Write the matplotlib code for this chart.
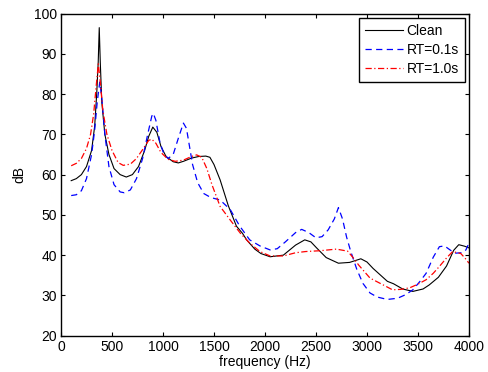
import matplotlib
matplotlib.use("Agg")
import matplotlib.pyplot as plt

plt.rcParams['font.family'] = ['Liberation Sans', 'DejaVu Sans']

clean_f = [100, 150, 200, 250, 300, 330, 350, 365, 375, 385, 400, 430, 470, 520, 580, 640, 700, 760, 820, 860,
           900, 940, 980, 1030, 1100, 1150, 1200, 1280, 1350, 1420, 1460, 1500, 1560, 1640, 1720, 1780, 1820,
           1900, 1960, 2050, 2180, 2300, 2390, 2450, 2510, 2600, 2720, 2830, 2940, 3000, 3060, 3200, 3260, 3350,
           3450, 3550, 3610, 3700, 3780, 3850, 3900, 3960, 4000]
clean_db = [58.5, 59, 60, 62, 66, 72, 80, 88, 96.5, 88, 78, 70, 65, 61.5, 60, 59.4, 60, 62, 66, 69.5,
            71.8, 70.5, 67, 64.5, 63.2, 62.9, 63.3, 64.1, 64.5, 64.6, 64.3, 62.5, 58.7, 52.3, 47.2, 45.4, 43.8,
            41.5, 40.4, 39.6, 40.0, 42.5, 43.8, 43.3, 41.7, 39.4, 38.0, 38.2, 39.1, 38.3, 36.7, 33.5, 32.9, 31.6,
            31.0, 31.6, 32.6, 34.5, 37.3, 41.2, 42.6, 42.2, 41.8]

rt01_f = [100, 150, 200, 250, 300, 330, 355, 380, 400, 430, 470, 520, 580, 620, 680, 740, 800, 850, 890, 905,
          930, 970, 1010, 1050, 1100, 1150, 1200, 1230, 1260, 1290, 1340, 1400, 1470, 1560, 1660, 1750, 1850,
          1950, 2050, 2120, 2200, 2300, 2360, 2430, 2500, 2560, 2620, 2680, 2720, 2760, 2800, 2840, 2900, 2960,
          3030, 3100, 3200, 3300, 3380, 3450, 3520, 3580, 3650, 3710, 3760, 3820, 3870, 3930, 3970, 4000]
rt01_db = [54.8, 55, 56, 59, 65, 71, 78, 83, 79, 70, 62, 57.5, 55.7, 55.5, 56.2, 59, 64, 70, 74.5, 75.2,
           73.5, 68, 65, 64, 65, 69, 72.8, 71.5, 67, 62.5, 58, 55.3, 54.3, 53.7, 51.3, 47.3, 43.8,
           42.3, 41.3, 41.6, 43.3, 45.6, 46.4, 45.6, 44.3, 44.6, 46.3, 49, 51.8, 49, 44.5, 41, 36.5, 33,
           30.6, 29.6, 29, 29.3, 30.2, 31.4, 33.5, 35.5, 39.5, 42.1, 42.3, 41.2, 40.5, 40.6, 41.3, 43]

rt10_f = [100, 150, 200, 250, 290, 320, 345, 366, 385, 410, 450, 500, 560, 610, 680, 740, 800, 860, 890, 930,
          980, 1050, 1120, 1200, 1280, 1330, 1380, 1430, 1480, 1560, 1660, 1760, 1850, 1950, 2050, 2180, 2300,
          2400, 2540, 2700, 2810, 2860, 2920, 3030, 3190, 3250, 3330, 3420, 3500, 3580, 3650, 3710, 3780, 3840,
          3920, 3960, 4000]
rt10_db = [62.2, 62.8, 64, 66.5, 70, 75, 82, 87.5, 83, 76, 70, 66, 63, 62.3, 62.6, 64, 66.2, 68.5, 68.8, 67.8,
           65.5, 63.8, 63.3, 63.6, 64.5, 64.9, 64.3, 61.5, 57.5, 52.1, 48.7, 45.4, 43, 40.9, 39.8, 39.8, 40.6,
           40.9, 41.1, 41.5, 41, 39.5, 37.5, 34.3, 32.2, 31.4, 31.5, 31.9, 32.8, 33.9, 35.5, 37.2, 39.3, 40.9,
           40.4, 39.3, 38]

xticks = [0, 500, 1000, 1500, 2000, 2500, 3000, 3500, 4000]
yticks = [20, 30, 40, 50, 60, 70, 80, 90, 100]

fig = plt.figure(figsize=(4.88, 3.72), dpi=100)
ax = fig.add_axes([0.125, 0.0976, 0.836, 0.866])
ax.plot(clean_f, clean_db, color='black', lw=0.8, label='Clean')
ax.plot(rt01_f, rt01_db, color='blue', lw=0.9, dashes=(5, 3.5), label='RT=0.1s')
ax.plot(rt10_f, rt10_db, color='red', lw=0.9, dashes=(5, 2, 1, 2), label='RT=1.0s')
ax.set_xlim(0, 4000)
ax.set_ylim(20, 100)
ax.set_xticks(xticks)
ax.set_yticks(yticks)
ax.tick_params(direction='in', top=True, right=True, labelsize=10, length=3, width=0.8, pad=3)
for s in ax.spines.values():
    s.set_linewidth(1.0)
ax.set_xlabel('frequency (Hz)', fontsize=10, labelpad=1)
ax.set_ylabel('dB', fontsize=10, labelpad=5)
leg = ax.legend(loc='upper right', fontsize=10, fancybox=False, framealpha=1, edgecolor='black',
                borderaxespad=0.3, handlelength=2.7, labelspacing=0.37, borderpad=0.42, handletextpad=0.3)
leg.get_frame().set_linewidth(1.0)
fig.savefig('out.png', dpi=100)
